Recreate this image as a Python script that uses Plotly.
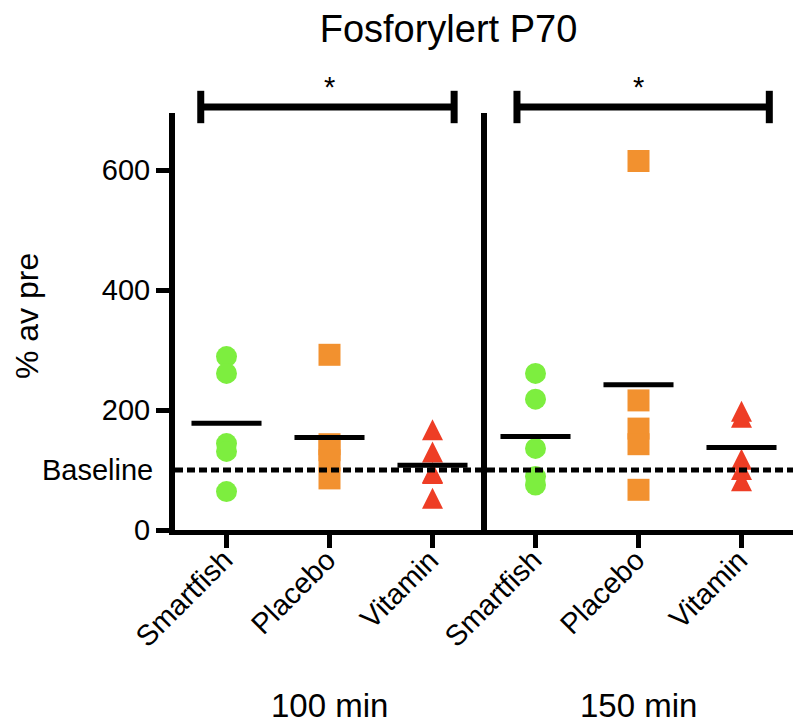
import plotly.graph_objects as go
import numpy as np

# ---------------- data ----------------
chart_title = "Fosforylert P70"
y_title = "% av pre"
groups = ["Smartfish", "Placebo", "Vitamin"]
timepoints = ["100 min", "150 min"]

smartfish_100 = [289, 261, 144, 131, 64]
placebo_100 = [292, 143, 133, 116, 86]
vitamin_100 = [167, 130, 96, 94, 53]

smartfish_150 = [261, 218, 136, 89, 75]
placebo_150 = [615, 216, 169, 143, 67]
vitamin_150 = [198, 188, 118, 101, 82]

baseline_value = 100
baseline_label = "Baseline"
y_tick_values = [0, 200, 400, 600]
y_max = 695
significance_labels = ["*", "*"]
bracket_spans = [(-0.25, 2.21), (-0.18, 2.27)]  # category units per panel

# ---------------- style ----------------
FONT = "Liberation Sans, Arial, sans-serif"
colors = ["#7DEE3F", "#F2912F", "#EE3D25"]
W, H = 793, 725
L, R, T, B = 175, 0, 113, 195
PLOT_H = H - T - B

panels = [
    [smartfish_100, placebo_100, vitamin_100],
    [smartfish_150, placebo_150, vitamin_150],
]

fig = go.Figure()

marker_styles = [
    dict(symbol="circle", size=21),
    dict(symbol="square", size=22),
    dict(symbol="arrow-down", size=21, angle=180, standoff=10.5),
]

for p, panel in enumerate(panels):
    xa = "x" if p == 0 else "x2"
    ya = "y" if p == 0 else "y2"
    for g, vals in enumerate(panel):
        st = marker_styles[g]
        fig.add_trace(go.Scatter(
            x=[g] * len(vals), y=vals, mode="markers",
            xaxis=xa, yaxis=ya, showlegend=False, cliponaxis=False,
            marker=dict(color=colors[g], line=dict(width=0), **st),
        ))
    for g, vals in enumerate(panel):
        m = float(np.mean(vals))
        fig.add_trace(go.Scatter(
            x=[g - 0.34, g + 0.34], y=[m, m], mode="lines",
            xaxis=xa, yaxis=ya, showlegend=False,
            line=dict(color="black", width=5),
        ))

axis_common = dict(
    showgrid=False, zeroline=False, showline=True, linecolor="black",
    linewidth=5, ticks="outside", ticklen=13, tickwidth=5, tickcolor="black",
    tickvals=[0, 1, 2], ticktext=groups, showticklabels=False,
    range=[-0.5, 2.5],
)
fig.update_layout(
    xaxis=dict(domain=[0, 0.5], anchor="y", **axis_common),
    xaxis2=dict(domain=[0.5, 1], anchor="y2", **axis_common),
    yaxis=dict(
        range=[0, y_max], showgrid=False, zeroline=False, showline=True,
        linecolor="black", linewidth=6, ticks="outside", ticklen=13,
        tickwidth=5, tickcolor="black", tickvals=y_tick_values,
        tickfont=dict(family=FONT, size=29, color="black"),
    ),
    yaxis2=dict(
        range=[0, y_max], matches="y", anchor="x2", showgrid=False,
        zeroline=False, showline=False, showticklabels=False, ticks="",
    ),
    width=W, height=H,
    margin=dict(l=L, r=R, t=T, b=B, pad=0),
    paper_bgcolor="white", plot_bgcolor="white",
    title=dict(
        text=chart_title, x=448.5 / W, xref="container", xanchor="center",
        y=1 - 29 / H, yref="container", yanchor="middle",
        font=dict(family=FONT, size=38, color="black"),
    ),
    showlegend=False,
)

shapes = []
# divider between panels
shapes.append(dict(type="line", xref="x domain", yref="paper", x0=1, x1=1,
                   y0=0, y1=1, line=dict(color="black", width=6)))
# baseline dashed line
shapes.append(dict(type="line", xref="paper", yref="y", x0=0, x1=1,
                   y0=baseline_value, y1=baseline_value,
                   line=dict(color="black", width=5, dash="8px,4px")))
# significance brackets
bracket_y = 705
cap_half = 27
annotations = []
for p, (a, b) in enumerate(bracket_spans):
    xr = "x domain" if p == 0 else "x2 domain"
    xd = "x" if p == 0 else "x2"
    d0, d1 = (a + 0.5) / 3, (b + 0.5) / 3
    yb = bracket_y / y_max
    shapes.append(dict(type="line", xref=xr, yref="paper", x0=d0, x1=d1,
                       y0=yb, y1=yb, line=dict(color="black", width=7)))
    for d in (d0, d1):
        shapes.append(dict(type="line", xref=xr, yref="paper", x0=d, x1=d,
                           y0=(bracket_y - cap_half) / y_max,
                           y1=(bracket_y + cap_half) / y_max,
                           line=dict(color="black", width=7)))
    annotations.append(dict(
        text=significance_labels[p], xref=xr, yref="paper",
        x=(1 + 0.5) / 3, y=739 / y_max, xanchor="center", yanchor="middle",
        showarrow=False, font=dict(family=FONT, size=29, color="black"),
    ))
    annotations.append(dict(
        text=timepoints[p], xref=xr, yref="paper",
        x=(1 + 0.5) / 3, y=-0.422, xanchor="center", yanchor="middle",
        showarrow=False, font=dict(family=FONT, size=33, color="black"),
    ))
    # rotated category labels
    for g, name in enumerate(groups):
        annotations.append(dict(
            text=name, xref=xd, yref="paper", x=g, y=-11 / PLOT_H,
            xanchor="right", yanchor="top", xshift=15, textangle=-45,
            showarrow=False, font=dict(family=FONT, size=29, color="black"),
        ))

annotations.append(dict(
    text=baseline_label, xref="paper", yref="y", x=0, y=baseline_value,
    xanchor="right", yanchor="middle", xshift=-20, showarrow=False,
    font=dict(family=FONT, size=29, color="black"),
))
annotations.append(dict(
    text=y_title, xref="paper", yref="paper", x=0, y=0.513,
    xanchor="center", yanchor="middle", xshift=27 - L, textangle=-90,
    showarrow=False, font=dict(family=FONT, size=32, color="black"),
))

fig.update_layout(shapes=shapes, annotations=annotations)
fig.write_html("out.html")
